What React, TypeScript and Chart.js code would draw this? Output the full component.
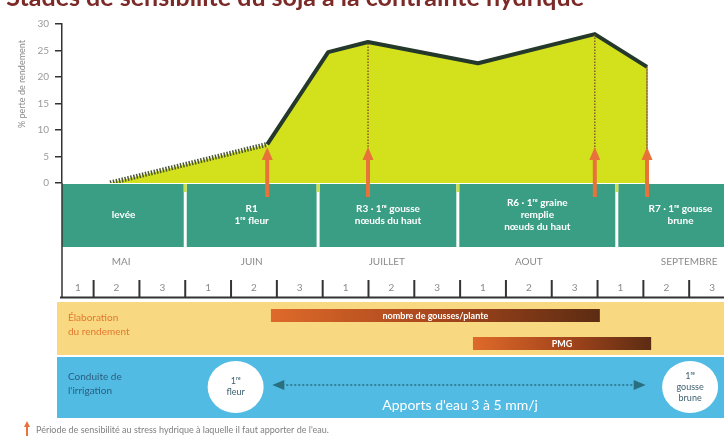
import React, { useEffect, useRef } from "react";
import { Chart, registerables } from "chart.js";

Chart.register(...registerables);

const TITLE = "Stades de sensibilité du soja à la contrainte hydrique";
const Y_TITLE = "% perte de rendement";
const Y_MIN = 0;
const Y_MAX = 30;
const Y_STEP = 5;
// x axis unit: decades (10-day periods) counted from 1 May
const X_MIN = 0.31;
const X_MAX = 14.76;

// yield-loss curve
const curveX = [1.36, 4.79, 6.12, 6.99, 9.39, 11.94, 13.08, 13.08];
const curveY = [0, 7.3, 24.7, 26.6, 22.6, 28.1, 21.9, 0];
// dotted drop lines
const dropX = [6.99, 11.94];
const dropY = [26.6, 28.1];
// sensitivity arrows
const arrowX = [4.79, 6.99, 11.94, 13.08];

// growth stages
const stageEdges = [0, 3, 5.9, 8.95, 12.42, 15.2];
const stageLabels = [
  ["levée"],
  ["R1", "1ʳᵉ fleur"],
  ["R3 · 1ʳᵉ gousse", "nœuds du haut"],
  ["R6 · 1ʳᵉ graine", "remplie", "nœuds du haut"],
  ["R7 · 1ʳᵉ gousse", "brune"],
];

// calendar
const months = ["MAI", "JUIN", "JUILLET", "AOUT", "SEPTEMBRE"];
const monthCenters = [1.6, 4.45, 7.4, 10.5, 14.0];
const decadeLabels = ["1", "2", "3"];
const decadeCount = 15;

// yield elaboration
const yieldTitle = ["Élaboration", "du rendement"];
const yieldLabels = ["nombre de gousses/plante", "PMG"];
const yieldStart = [4.87, 9.28];
const yieldEnd = [12.05, 13.17];

// irrigation
const irrigTitle = ["Conduite de", "l'irrigation"];
const irrigOvalX = [4.1, 14.02];
const irrigOvalText = [["1ʳᵉ", "fleur"], ["1ʳᵉ", "gousse", "brune"]];
const irrigArrowStart = 4.9;
const irrigArrowEnd = 13.05;
const irrigTextX = 9.0;
const irrigText = "Apports d'eau 3 à 5 mm/j";

const footnote = "Période de sensibilité au stress hydrique à laquelle il faut apporter de l'eau.";

const F = "Lato, 'Noto Sans', sans-serif";

function drawArrowUp(ctx: CanvasRenderingContext2D, x: number, yBottom: number, yTip: number, shaft: number, headW: number, headH: number) {
  ctx.fillRect(x - shaft / 2, yTip + headH - 1, shaft, yBottom - (yTip + headH - 1));
  ctx.beginPath();
  ctx.moveTo(x, yTip);
  ctx.lineTo(x + headW / 2, yTip + headH);
  ctx.lineTo(x - headW / 2, yTip + headH);
  ctx.closePath();
  ctx.fill();
}

const decor = {
  id: "decor",
  afterDraw(chart: any) {
    const ctx: CanvasRenderingContext2D = chart.ctx;
    const xs = chart.scales.x;
    const px = (v: number) => xs.getPixelForValue(v);
    const L = chart.chartArea.left;
    const R = chart.width;
    ctx.save();

    // title (cropped at the top)
    ctx.font = `bold 25px ${F}`;
    ctx.fillStyle = "#7c2a28";
    ctx.textAlign = "right";
    ctx.textBaseline = "alphabetic";
    ctx.fillText(TITLE, 584, 6);

    // y title
    ctx.save();
    ctx.translate(22, 84);
    ctx.rotate(-Math.PI / 2);
    ctx.font = `9px ${F}`;
    ctx.fillStyle = "#8a8a8a";
    ctx.textAlign = "center";
    ctx.textBaseline = "middle";
    ctx.fillText(Y_TITLE, 0, 0);
    ctx.restore();

    // stage band
    const sTop = 184;
    const sBot = 247;
    ctx.fillStyle = "#3a9e84";
    ctx.fillRect(L, sTop, R - L, sBot - sTop);
    for (let i = 1; i < stageEdges.length - 1; i++) {
      const e = px(stageEdges[i]);
      ctx.fillStyle = "#ffffff";
      ctx.fillRect(e - 1.5, sTop, 3, sBot - sTop);
      ctx.fillStyle = "#c9df4e";
      ctx.fillRect(e - 1.5, sTop, 3, 8);
    }
    ctx.fillStyle = "#ffffff";
    ctx.font = `bold 10px ${F}`;
    ctx.textAlign = "center";
    ctx.textBaseline = "middle";
    stageLabels.forEach((lines, i) => {
      const a = Math.max(px(stageEdges[i]), L);
      const b = px(stageEdges[i + 1]);
      const cx = (a + b) / 2;
      const lh = 12;
      const y0 = 215 - ((lines.length - 1) * lh) / 2;
      lines.forEach((t, j) => ctx.fillText(t, cx, y0 + j * lh));
    });

    // months
    ctx.fillStyle = "#8a8a8a";
    ctx.font = `10px ${F}`;
    months.forEach((m, i) => ctx.fillText(m, px(monthCenters[i]), 262));

    // decades
    ctx.strokeStyle = "#333333";
    ctx.lineWidth = 2;
    for (let i = 1; i <= decadeCount; i++) {
      const x = px(i);
      if (x > R) break;
      ctx.beginPath();
      ctx.moveTo(x, 280);
      ctx.lineTo(x, 297);
      ctx.stroke();
    }
    ctx.fillStyle = "#8a8a8a";
    ctx.font = `10px ${F}`;
    for (let i = 0; i < decadeCount; i++) {
      const a = Math.max(i, X_MIN);
      const cx = px((a + i + 1) / 2);
      ctx.fillText(decadeLabels[i % 3], cx, 288);
    }
    ctx.beginPath();
    ctx.moveTo(L - 2, 297.5);
    ctx.lineTo(R, 297.5);
    ctx.stroke();
    ctx.lineWidth = 1.5;
    ctx.beginPath();
    ctx.moveTo(L, 183);
    ctx.lineTo(L, 298);
    ctx.stroke();

    // yield band
    ctx.fillStyle = "#f8d982";
    ctx.fillRect(57, 302, R - 57, 53);
    ctx.fillStyle = "#e2782f";
    ctx.textAlign = "left";
    ctx.font = `10px ${F}`;
    yieldTitle.forEach((t, j) => ctx.fillText(t, 68, 318 + j * 14));
    const barTops = [309, 337];
    yieldLabels.forEach((lab, i) => {
      const a = px(yieldStart[i]);
      const b = px(yieldEnd[i]);
      const g = ctx.createLinearGradient(a, 0, b, 0);
      g.addColorStop(0, "#de6a2a");
      g.addColorStop(0.5, "#a8461c");
      g.addColorStop(1, "#5c2c12");
      ctx.fillStyle = g;
      ctx.fillRect(a, barTops[i], b - a, 13);
      ctx.fillStyle = "#ffffff";
      ctx.font = `bold 9px ${F}`;
      ctx.textAlign = "center";
      ctx.fillText(lab, (a + b) / 2, barTops[i] + 7);
    });

    // irrigation band
    ctx.fillStyle = "#52bbe4";
    ctx.fillRect(57, 357, R - 57, 61);
    ctx.fillStyle = "#2b5d7c";
    ctx.textAlign = "left";
    ctx.font = `10px ${F}`;
    irrigTitle.forEach((t, j) => ctx.fillText(t, 68, 377 + j * 14));

    // dotted arrow
    const ay = 385;
    const a1 = px(irrigArrowStart);
    const a2 = px(irrigArrowEnd);
    ctx.strokeStyle = "#2a6f80";
    ctx.lineWidth = 1.5;
    ctx.setLineDash([2, 2]);
    ctx.beginPath();
    ctx.moveTo(a1 + 10, ay);
    ctx.lineTo(a2 - 10, ay);
    ctx.stroke();
    ctx.setLineDash([]);
    ctx.fillStyle = "#2a6f80";
    ctx.beginPath();
    ctx.moveTo(a1, ay);
    ctx.lineTo(a1 + 12, ay - 5);
    ctx.lineTo(a1 + 12, ay + 5);
    ctx.closePath();
    ctx.fill();
    ctx.beginPath();
    ctx.moveTo(a2, ay);
    ctx.lineTo(a2 - 12, ay - 5);
    ctx.lineTo(a2 - 12, ay + 5);
    ctx.closePath();
    ctx.fill();

    // ovals
    irrigOvalX.forEach((v, i) => {
      const cx = px(v);
      ctx.fillStyle = "#ffffff";
      ctx.beginPath();
      ctx.ellipse(cx, 387, 28, 26, 0, 0, Math.PI * 2);
      ctx.fill();
      ctx.fillStyle = "#3c5f70";
      ctx.font = `9px ${F}`;
      ctx.textAlign = "center";
      const lines = irrigOvalText[i];
      const lh = 11;
      const y0 = 387 - ((lines.length - 1) * lh) / 2;
      lines.forEach((t, j) => ctx.fillText(t, cx, y0 + j * lh));
    });

    ctx.fillStyle = "#ffffff";
    ctx.font = `14px ${F}`;
    ctx.textAlign = "center";
    ctx.fillText(irrigText, px(irrigTextX), 405);

    // sensitivity arrows
    ctx.fillStyle = "#e8733a";
    arrowX.forEach((v) => drawArrowUp(ctx, px(v), 197, 147, 4, 11, 13));

    // footnote
    drawArrowUp(ctx, 27, 436, 421, 2, 6, 6);
    ctx.fillStyle = "#808080";
    ctx.font = `9px ${F}`;
    ctx.textAlign = "left";
    ctx.fillText(footnote, 36, 430);

    ctx.restore();
  },
};

export default function App() {
  const ref = useRef<HTMLCanvasElement>(null);
  useEffect(() => {
    const canvas = ref.current!;
    const mainData = curveX.map((x, i) => ({ x, y: curveY[i] }));
    const last = curveX.length - 1;
    const drops = dropX.map((x, i) => ({
      type: "line" as const,
      data: [
        { x, y: 0 },
        { x, y: dropY[i] },
      ],
      borderColor: "#7a4a2e",
      borderWidth: 1.3,
      borderDash: [1.5, 1.5],
      pointRadius: 0,
      fill: false,
      order: 0,
    }));
    const chart = new Chart(canvas, {
      type: "line",
      data: {
        datasets: [
          {
            data: mainData,
            borderColor: "#24382b",
            borderWidth: 4,
            borderJoinStyle: "round",
            backgroundColor: "#d3e01c",
            fill: "origin",
            pointRadius: 0,
            tension: 0,
            order: 1,
            segment: {
              borderColor: (c: any) =>
                c.p1DataIndex === last ? "#7a4a2e" : c.p0DataIndex === 0 ? "#4a5636" : "#24382b",
              borderWidth: (c: any) => (c.p1DataIndex === last ? 1.3 : c.p0DataIndex === 0 ? 5 : 4),
              borderDash: (c: any) =>
                c.p1DataIndex === last ? [1.5, 1.5] : c.p0DataIndex === 0 ? [1.5, 1.5] : [],
            },
          } as any,
          ...drops,
        ],
      },
      options: {
        responsive: false,
        animation: false,
        devicePixelRatio: 1,
        layout: { padding: { left: 0, right: 0, top: 24, bottom: 263 } },
        plugins: {
          legend: { display: false },
          tooltip: { enabled: false },
          title: { display: false },
        },
        scales: {
          x: { type: "linear", min: X_MIN, max: X_MAX, display: false },
          y: {
            min: Y_MIN,
            max: Y_MAX,
            afterFit: (s: any) => {
              s.width = 62;
            },
            border: { display: true, color: "#333333", width: 1.5 },
            grid: { drawOnChartArea: false, drawTicks: true, tickLength: 7, color: "#333333", lineWidth: 1.5 },
            ticks: { stepSize: Y_STEP, color: "#9a9a9a", font: { size: 10, family: F }, padding: 6 },
          },
        },
      },
      plugins: [decor],
    } as any);
    return () => chart.destroy();
  }, []);
  return (
    <div style={{ position: "absolute", left: 0, top: 0, width: 724, height: 446, background: "#ffffff" }}>
      <canvas ref={ref} width={724} height={446} style={{ display: "block", width: 724, height: 446 }} />
    </div>
  );
}
